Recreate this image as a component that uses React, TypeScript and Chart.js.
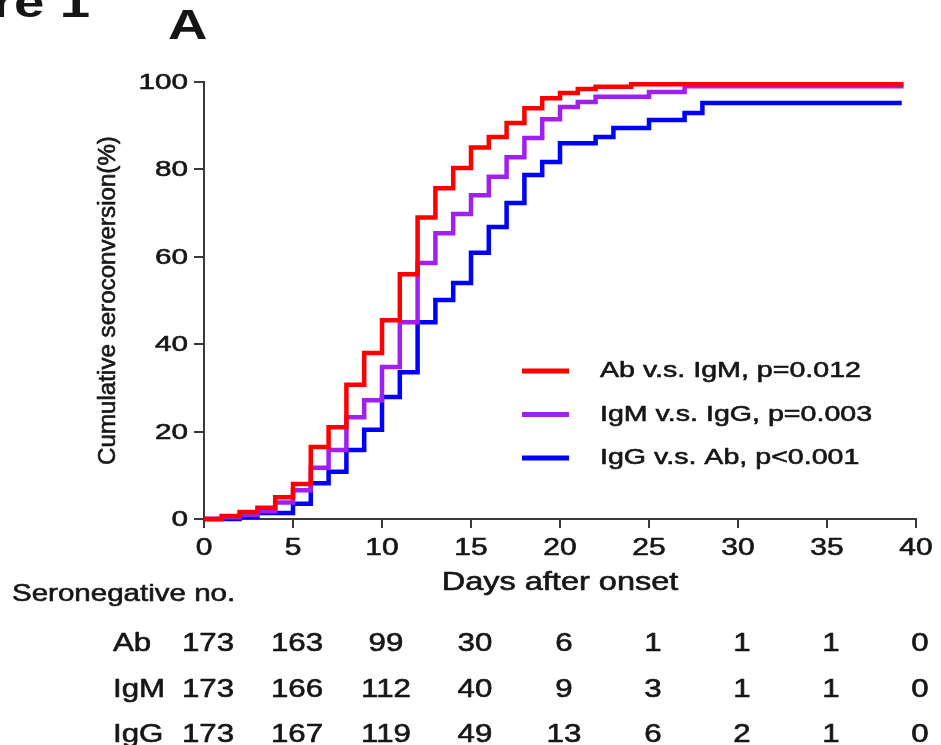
import { useEffect, useRef } from "react";
import { Chart, registerables } from "chart.js";

Chart.register(...registerables);

// ---- Data ----
const abDays = [0, 1, 2, 3, 4, 5, 6, 7, 8, 9, 10, 11, 12, 13, 14, 15, 16, 17, 18, 19, 20, 21, 22, 24, 39.3];
const abValues = [0, 0.7, 1.6, 2.6, 5, 8, 16.5, 21, 30.7, 38, 45.5, 56, 69, 75.7, 80.3, 85, 87.4, 90.6, 94, 96.3, 97.5, 98.4, 98.9, 99.5, 99.5];

const igmDays = [0, 1, 2, 3, 4, 5, 6, 7, 8, 9, 10, 11, 12, 13, 14, 15, 16, 17, 18, 19, 20, 21, 22, 25, 27, 39.3];
const igmValues = [0, 0.4, 1, 1.8, 3.8, 6.6, 11.7, 15.8, 23.3, 27.2, 34.8, 45, 58.6, 65.4, 69.8, 74.1, 78.3, 82.8, 87.2, 91.5, 94.3, 95.4, 96.6, 97.7, 99, 99];

const iggDays = [0, 2, 3, 5, 6, 7, 8, 9, 10, 11, 12, 13, 14, 15, 16, 17, 18, 19, 20, 22, 23, 25, 27, 28, 39.2];
const iggValues = [0, 0.5, 1.4, 3.5, 8.2, 10.8, 15.8, 20.4, 27.9, 33.6, 45, 50.1, 54, 60.9, 66.8, 72.3, 78.7, 81.7, 86, 87.4, 89.5, 91.3, 92.9, 95.2, 95.2];

const seriesNames = ["Ab", "IgM", "IgG"];
const seriesColors = ["#ff0000", "#a020f0", "#0000ff"];
const legendLabels = ["Ab v.s. IgM, p=0.012", "IgM v.s. IgG, p=0.003", "IgG v.s. Ab, p<0.001"];

const tableDays = [0, 5, 10, 15, 20, 25, 30, 35, 40];
const abAtRisk = [173, 163, 99, 30, 6, 1, 1, 1, 0];
const igmAtRisk = [173, 166, 112, 40, 9, 3, 1, 1, 0];
const iggAtRisk = [173, 167, 119, 49, 13, 6, 2, 1, 0];

const xTitle = "Days after onset";
const yTitle = "Cumulative seroconversion(%)";
const tableTitle = "Seronegative no.";
const panelLabel = "A";
const figureLabel = "Figure 1";

const FONT = '"Liberation Sans", Arial, Helvetica, sans-serif';
const TEXT = "#161616";
const AXIS = "#3a3a3a";

type TextOpts = {
  size: number;
  sx?: number;
  align?: CanvasTextAlign;
  baseline?: CanvasTextBaseline;
  weight?: string;
  rotate?: boolean;
  stroke?: number;
};

function drawText(ctx: CanvasRenderingContext2D, text: string, x: number, y: number, o: TextOpts) {
  ctx.save();
  ctx.translate(x, y);
  if (o.rotate) ctx.rotate(-Math.PI / 2);
  ctx.scale(o.sx ?? 1, 1);
  ctx.font = `${o.weight ?? "normal"} ${o.size}px ${FONT}`;
  ctx.textAlign = o.align ?? "left";
  ctx.textBaseline = o.baseline ?? "alphabetic";
  ctx.fillStyle = TEXT;
  ctx.fillText(text, 0, 0);
  const sw = o.stroke ?? 0.6;
  if (sw > 0) {
    ctx.strokeStyle = TEXT;
    ctx.lineWidth = sw;
    ctx.lineJoin = "round";
    ctx.strokeText(text, 0, 0);
  }
  ctx.restore();
}

const figurePlugin = {
  id: "figureText",
  afterDraw(chart: any) {
    const ctx: CanvasRenderingContext2D = chart.ctx;
    const xs = chart.scales.x;
    const ys = chart.scales.y;
    const a = chart.chartArea;

    // y tick labels
    ys.ticks.forEach((t: any, i: number) => {
      drawText(ctx, String(t.value), a.left - 16, ys.getPixelForTick(i) + 1, {
        size: 22, sx: 1.35, align: "right", baseline: "middle",
      });
    });
    // x tick labels
    xs.ticks.forEach((t: any, i: number) => {
      drawText(ctx, String(t.value), xs.getPixelForTick(i), a.bottom + 36, {
        size: 24, sx: 1.25, align: "center",
      });
    });
    // axis titles
    drawText(ctx, xTitle, (a.left + a.right) / 2, a.bottom + 71, { size: 25, sx: 1.3, align: "center" });
    drawText(ctx, yTitle, 115, (a.top + a.bottom) / 2, { size: 23, sx: 1.05, align: "center", rotate: true });

    // legend
    legendLabels.forEach((lab, i) => {
      const y = 371 + i * 43.5;
      ctx.save();
      ctx.strokeStyle = seriesColors[i];
      ctx.lineWidth = 5;
      ctx.beginPath();
      ctx.moveTo(522, y);
      ctx.lineTo(569, y);
      ctx.stroke();
      ctx.restore();
      drawText(ctx, lab, 600, y, { size: 22, sx: 1.3, baseline: "middle" });
    });

    // panel labels
    drawText(ctx, panelLabel, 168, 39, { size: 42, sx: 1.3, weight: "bold", stroke: 0 });
    drawText(ctx, figureLabel, 90, 17, { size: 42, sx: 1.3, weight: "bold", align: "right", stroke: 0 });

    // at-risk table
    drawText(ctx, tableTitle, 12, 601, { size: 24, sx: 1.23 });
    const rows = [abAtRisk, igmAtRisk, iggAtRisk];
    rows.forEach((row, r) => {
      const base = 651 + r * 45.5;
      drawText(ctx, seriesNames[r], 113, base, { size: 25, sx: 1.25 });
      row.forEach((v, c) => {
        drawText(ctx, String(v), xs.getPixelForValue(tableDays[c]) + 4, base, {
          size: 25, sx: 1.25, align: "center",
        });
      });
    });
  },
};

function toPoints(days: number[], values: number[]) {
  return days.map((d, i) => ({ x: d, y: values[i] }));
}

export default function App() {
  const ref = useRef<HTMLCanvasElement | null>(null);

  useEffect(() => {
    document.body.style.margin = "0";
    const canvas = ref.current;
    if (!canvas) return;
    const allDays = [abDays, igmDays, iggDays];
    const allValues = [abValues, igmValues, iggValues];
    const chart = new Chart(canvas, {
      type: "line",
      data: {
        datasets: seriesNames.map((name, i) => ({
          label: name,
          data: toPoints(allDays[i], allValues[i]),
          borderColor: seriesColors[i],
          backgroundColor: seriesColors[i],
          borderWidth: 4.5,
          stepped: "before" as const,
          pointRadius: 0,
          fill: false,
          borderCapStyle: "butt" as const,
          borderJoinStyle: "miter" as const,
          clip: 6,
        })),
      },
      options: {
        animation: false,
        responsive: false,
        devicePixelRatio: 1,
        layout: { padding: { left: 0, right: 25, top: 82, bottom: 196 } },
        plugins: {
          legend: { display: false },
          tooltip: { enabled: false },
          title: { display: false },
        },
        scales: {
          x: {
            type: "linear",
            min: 0,
            max: 40,
            ticks: { stepSize: 5, display: false },
            grid: {
              display: true,
              drawOnChartArea: false,
              drawTicks: true,
              tickLength: 9,
              tickColor: AXIS,
              tickWidth: 2,
              color: AXIS,
              lineWidth: 2,
            },
            border: { display: true, color: AXIS, width: 2 },
            afterFit: (s: any) => {
              s.height = 30;
            },
          },
          y: {
            type: "linear",
            min: 0,
            max: 100,
            ticks: { stepSize: 20, display: false },
            grid: {
              display: true,
              drawOnChartArea: false,
              drawTicks: true,
              tickLength: 10,
              tickColor: AXIS,
              tickWidth: 2,
              color: AXIS,
              lineWidth: 2,
            },
            border: { display: true, color: AXIS, width: 2 },
            afterFit: (s: any) => {
              s.width = 204;
            },
          },
        },
      },
      plugins: [figurePlugin],
    });
    return () => chart.destroy();
  }, []);

  return (
    <div style={{ width: 941, height: 745, background: "#fff" }}>
      <canvas ref={ref} width={941} height={745} style={{ display: "block" }} />
    </div>
  );
}
